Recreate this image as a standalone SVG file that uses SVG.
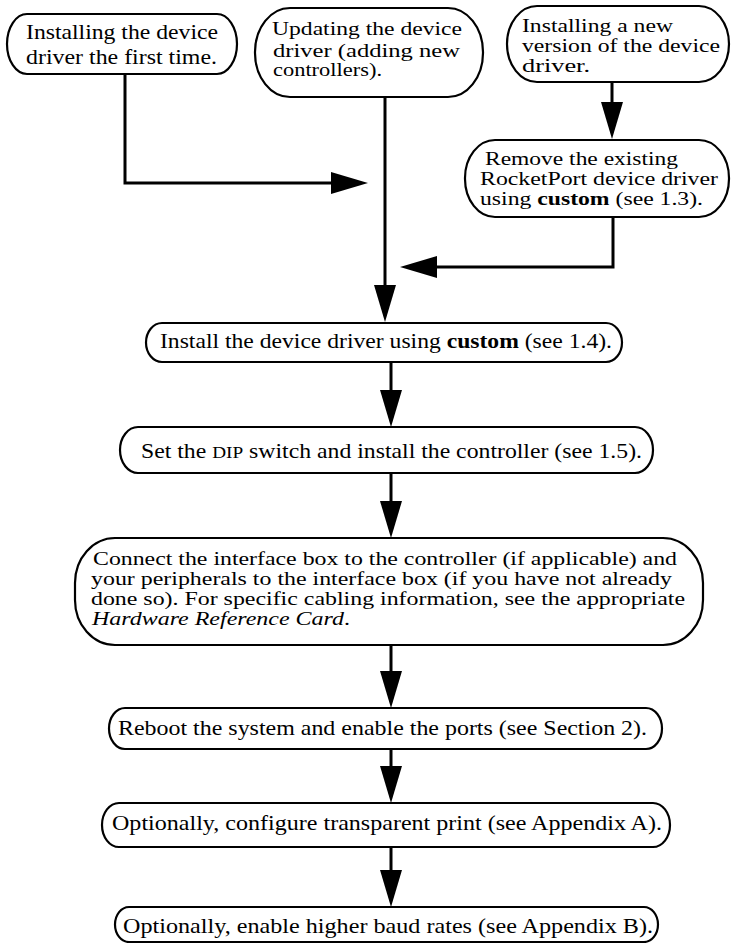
<svg xmlns="http://www.w3.org/2000/svg" width="731" height="943" viewBox="0 0 731 943">
<style>
.box{fill:#fff;stroke:#000;stroke-width:2.2}
.t{font-family:"Liberation Serif","Times New Roman",serif;font-size:21px;fill:#000}
.m{font-size:19px}
.b{font-weight:bold}
.i{font-style:italic}
.sc{font-size:17px}
.c{fill:none;stroke:#000;stroke-width:3;marker-end:url(#ah)}
</style>
<defs>
<marker id="ah" markerUnits="userSpaceOnUse" markerWidth="37" markerHeight="22" refX="29" refY="11" orient="auto">
<path d="M0,0 L37,11 L0,22 z" fill="#000"/>
</marker>
</defs>
<rect width="731" height="943" fill="#fff"/>
<g id="connectors">
<path class="c" d="M125,74 V183 H360"/>
<path class="c" d="M385,97 V314"/>
<path class="c" d="M612,82 V131"/>
<path class="c" d="M613,217 V267 H408"/>
<path class="c" d="M391,362 V419"/>
<path class="c" d="M391,473 V530"/>
<path class="c" d="M391,645 V700"/>
<path class="c" d="M391,749 V795"/>
<path class="c" d="M391,847 V899"/>
</g>
<g id="n1">
<rect class="box" x="7" y="14" width="230" height="60" rx="20" ry="30"/>
<text class="t" x="26" y="39" textLength="192" lengthAdjust="spacingAndGlyphs">Installing the device</text>
<text class="t" x="26" y="64" textLength="191" lengthAdjust="spacingAndGlyphs">driver the first time.</text>
</g>
<g id="n2">
<rect class="box" x="255" y="8" width="228" height="89" rx="35" ry="44"/>
<text class="t m" x="272" y="35" textLength="190" lengthAdjust="spacingAndGlyphs">Updating the device</text>
<text class="t m" x="273" y="57" textLength="187" lengthAdjust="spacingAndGlyphs">driver (adding new</text>
<text class="t m" x="273" y="76" textLength="109" lengthAdjust="spacingAndGlyphs">controllers).</text>
</g>
<g id="n3">
<rect class="box" x="507" y="6" width="222" height="76" rx="30" ry="38"/>
<text class="t m" x="522" y="32" textLength="151" lengthAdjust="spacingAndGlyphs">Installing a new</text>
<text class="t m" x="522" y="52" textLength="198" lengthAdjust="spacingAndGlyphs">version of the device</text>
<text class="t m" x="522" y="72" textLength="68" lengthAdjust="spacingAndGlyphs">driver.</text>
</g>
<g id="n4">
<rect class="box" x="465" y="140" width="264" height="77" rx="30" ry="38"/>
<text class="t m" x="485" y="165" textLength="193" lengthAdjust="spacingAndGlyphs">Remove the existing</text>
<text class="t m" x="480" y="185" textLength="238" lengthAdjust="spacingAndGlyphs">RocketPort device driver</text>
<text class="t m" x="480" y="205" textLength="223" lengthAdjust="spacingAndGlyphs">using <tspan class="b">custom</tspan> (see 1.3).</text>
</g>
<g id="n5">
<rect class="box" x="146" y="323" width="476" height="39" rx="16" ry="19.5"/>
<text class="t" x="160" y="348" textLength="452" lengthAdjust="spacingAndGlyphs">Install the device driver using <tspan class="b">custom</tspan> (see 1.4).</text>
</g>
<g id="n6">
<rect class="box" x="120" y="427" width="533" height="46" rx="18" ry="23"/>
<text class="t" x="141" y="458" textLength="501" lengthAdjust="spacingAndGlyphs">Set the <tspan class="sc">DIP</tspan> switch and install the controller (see 1.5).</text>
</g>
<g id="n7">
<rect class="box" x="75" y="538" width="628" height="107" rx="40" ry="45"/>
<text class="t m" x="93" y="565" textLength="584" lengthAdjust="spacingAndGlyphs">Connect the interface box to the controller (if applicable) and</text>
<text class="t m" x="91" y="585" textLength="581" lengthAdjust="spacingAndGlyphs">your peripherals to the interface box (if you have not already</text>
<text class="t m" x="91" y="605" textLength="594" lengthAdjust="spacingAndGlyphs">done so). For specific cabling information, see the appropriate</text>
<text class="t m" x="92" y="625" textLength="258" lengthAdjust="spacingAndGlyphs"><tspan class="i">Hardware Reference Card</tspan>.</text>
</g>
<g id="n8">
<rect class="box" x="109" y="708" width="553" height="41" rx="16" ry="20.5"/>
<text class="t" x="118" y="735" textLength="529" lengthAdjust="spacingAndGlyphs">Reboot the system and enable the ports (see Section 2).</text>
</g>
<g id="n9">
<rect class="box" x="102" y="803" width="568" height="44" rx="17" ry="22"/>
<text class="t" x="112" y="830" textLength="550" lengthAdjust="spacingAndGlyphs">Optionally, configure transparent print (see Appendix A).</text>
</g>
<g id="n10">
<rect class="box" x="115" y="907" width="543" height="35" rx="14" ry="17.5"/>
<text class="t" x="123" y="933" textLength="530" lengthAdjust="spacingAndGlyphs">Optionally, enable higher baud rates (see Appendix B).</text>
</g>
</svg>
